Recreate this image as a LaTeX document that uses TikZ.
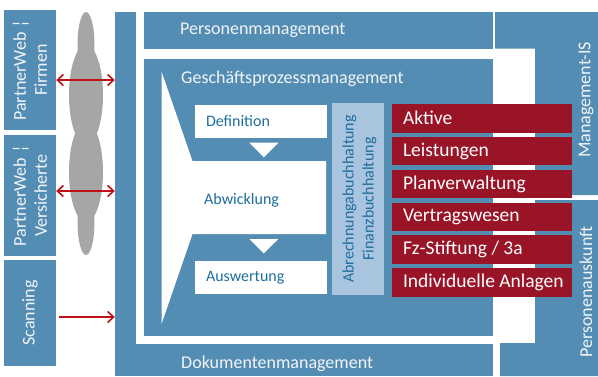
\documentclass[tikz,border=0pt]{standalone}
\usepackage{fontspec}
\setmainfont{Carlito}
\usetikzlibrary{arrows.meta}
\definecolor{blkblue}{RGB}{84,141,180}
\definecolor{modred}{RGB}{154,20,39}
\definecolor{fiblue}{RGB}{169,196,222}
\definecolor{txtblue}{RGB}{29,110,160}
\definecolor{lbl}{RGB}{242,244,247}
\definecolor{cloud}{RGB}{166,166,166}
\definecolor{arr}{RGB}{192,16,24}

\begin{document}
\begin{tikzpicture}[x=1pt, y=-1pt,
  panel/.style={fill=blkblue, draw=none, inner sep=0pt},
  htext/.style={text=lbl, inner sep=0pt, font=\fontsize{18}{21}\selectfont},
  vtext/.style={htext, rotate=90, align=center},
  wbox/.style={fill=white, minimum width=132pt, minimum height=33pt, inner xsep=11pt,
    text width=110pt, align=left, text=txtblue, font=\fontsize{16}{19}\selectfont},
  modbox/.style={fill=modred, minimum width=180pt, minimum height=28.5pt, inner sep=0pt},
  modtext/.style={text=white, inner sep=0pt, anchor=west, font=\fontsize{19.5}{22}\selectfont},
  link/.style={draw=arr, line width=1.6pt, -{Straight Barb[length=6pt,width=11pt]}},
  bilink/.style={link, {Straight Barb[length=6pt,width=11pt]}-{Straight Barb[length=6pt,width=11pt]}}]
\useasboundingbox (0,0) rectangle (598,376);

% left side
\node[panel, minimum width=52pt, minimum height=120pt] (pwf) at (30,70) {};
\node[vtext] at (pwf) {PartnerWeb ¦\\Firmen};
\node[panel, minimum width=52pt, minimum height=121pt] (pwv) at (30,195.5) {};
\node[vtext] at (pwv) {PartnerWeb ¦\\Versicherte};
\node[panel, minimum width=52pt, minimum height=106pt] (scan) at (30,313) {};
\node[vtext] at (scan) {Scanning};

% cloud
\fill[cloud] (86,45) ellipse [x radius=8.5, y radius=33];
\fill[cloud] (86,222) ellipse [x radius=8.5, y radius=33];
\fill[cloud] (86,95) ellipse [x radius=17, y radius=50];
\fill[cloud] (86,172) ellipse [x radius=17, y radius=50];

% Dokumentenmanagement
\node[panel, minimum width=21pt, minimum height=364pt] (dokv) at (125.5,194) {};
\node[panel, minimum width=378pt, minimum height=32pt] (dokh) at (304,360) {};
\node[htext, anchor=west] (dok) at (181,364) {Dokumentenmanagement};

% Personenmanagement
\node[panel, minimum width=349pt, minimum height=36.7pt] (pm) at (318.5,30.35) {};
\node[htext, anchor=west] (pml) at (180,30.5) {Personenmanagement};

% Management-IS und Personenauskunft
\fill[blkblue] (495,12) -- (598,12) -- (598,195) -- (535,195) -- (535,48.7) -- (495,48.7) -- cycle;
\node[vtext] (mis) at (586,100) {Management-IS};
\fill[blkblue] (535,200) -- (598,200) -- (598,376) -- (500,376) -- (500,343) -- (535,343) -- cycle;
\node[vtext] (pak) at (586,292) {Personenauskunft};

% Geschaeftsprozessmanagement
\node[panel, minimum width=349pt, minimum height=277pt] (gpm) at (318.5,197.5) {};
\node[htext, anchor=west] (gpml) at (181,79) {Geschäftsprozessmanagement};
\fill[white] (161.5,71.5) -- (192.5,161) -- (326,161) -- (326,234) -- (192.5,234) -- (161.5,324) -- cycle;
\node[wbox] (def) at (261,121.3) {Definition};
\node[text=txtblue, font=\fontsize{16}{19}\selectfont, inner sep=0pt, anchor=west] (abw) at (204,200) {Abwicklung};
\node[wbox] (ausw) at (261,277.5) {Auswertung};
\fill[white] (249.3,142.7) -- (278.3,142.7) -- (263.8,157.3) -- cycle;
\fill[white] (249.3,239) -- (278.3,239) -- (263.8,253.3) -- cycle;

\node[fill=fiblue, minimum width=52pt, minimum height=192pt] (fibu) at (358,199) {};
\node[rotate=90, align=center, text=txtblue, font=\fontsize{16}{20}\selectfont] at (359.5,199)
  {Abrechnungabuchhaltung\\Finanzbuchhaltung};

\foreach \txt [count=\i from 0] in {Aktive, Leistungen, Planverwaltung, Vertragswesen,
    {Fz-Stiftung / 3a}, Individuelle Anlagen}{
  \node[modbox] (mod\i) at (482,118.25+\i*32.85) {};
  \node[modtext] at ([xshift=11pt]mod\i.west) {\txt};
}

% Schnittstellen
\coordinate (r1) at (0,80);
\coordinate (r2) at (0,191);
\coordinate (r3) at (0,317);
\draw[bilink] (pwf.east |- r1) -- (dokv.west |- r1);
\draw[bilink] (pwv.east |- r2) -- (dokv.west |- r2);
\draw[link] ([xshift=3pt]scan.east |- r3) -- (dokv.west |- r3);
\end{tikzpicture}
\end{document}
